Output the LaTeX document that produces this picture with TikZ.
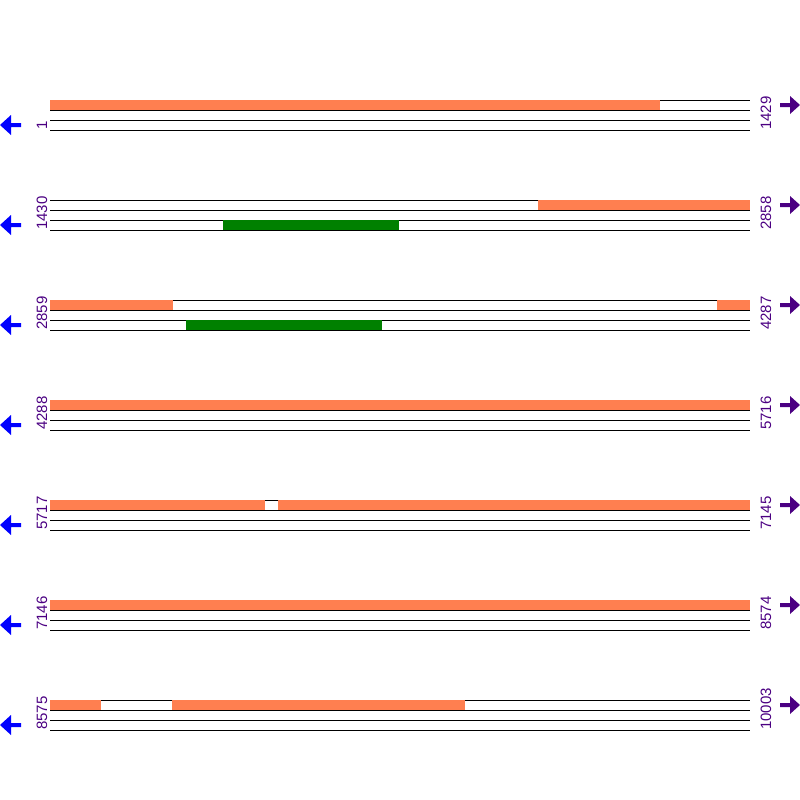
\documentclass[tikz,border=0pt]{standalone}
\usepackage{fontspec}
\setmainfont{Liberation Sans}
\tikzset{
  strand/.style={line width=1pt,black},
  poslab/.style={rotate=90,anchor=base west,inner sep=0pt,text=clab,font=\fontsize{15}{15}\selectfont},
}
\begin{document}
\begin{tikzpicture}[x=1pt,y=-1pt]
\definecolor{cseg}{rgb}{1.0,0.498,0.314}
\definecolor{cgene}{rgb}{0.0,0.502,0.0}
\definecolor{clab}{rgb}{0.294,0.0,0.51}
\definecolor{cfwd}{rgb}{0.294,0.0,0.51}
\definecolor{crev}{rgb}{0.0,0.0,1.0}
%
\useasboundingbox (0,0) rectangle (800,800);
%
\foreach \i/\s/\e in {1/1/1429,2/1430/2858,3/2859/4287,4/4288/5716,5/5717/7145,6/7146/8574,7/8575/10003}{
  \pgfmathsetmacro{\y}{100*\i}
  \foreach \d in {0,10,20,30}
    \draw[strand] (50,\y+\d) -- (750,\y+\d);
  \node[poslab] (s\i) at (47,\y+30) {\s};
  \node[poslab] (e\i) at (771,\y+30) {\e};
  \fill[crev,shift={(0,\y)}] (21,23) -- (11,23) -- (11,15) -- (0,25) -- (11,35) -- (11,27) -- (21,27) -- cycle;
  \fill[cfwd,shift={(0,\y)}] (780,3) -- (790,3) -- (790,-4) -- (800,5) -- (790,14) -- (790,7) -- (780,7) -- cycle;
}
%
\fill[cseg] (50,100) rectangle (660,110);
\fill[cseg] (538,200) rectangle (750,210);
\fill[cgene] (223,220) rectangle (399,230);
\fill[cseg] (50,300) rectangle (173,310);
\fill[cseg] (717,300) rectangle (750,310);
\fill[cgene] (186,320) rectangle (382,330);
\fill[cseg] (50,400) rectangle (750,410);
\fill[cseg] (50,500) rectangle (265,510);
\fill[cseg] (278,500) rectangle (750,510);
\fill[cseg] (50,600) rectangle (750,610);
\fill[cseg] (50,700) rectangle (101,710);
\fill[cseg] (172,700) rectangle (465,710);
%
\end{tikzpicture}
\end{document}
